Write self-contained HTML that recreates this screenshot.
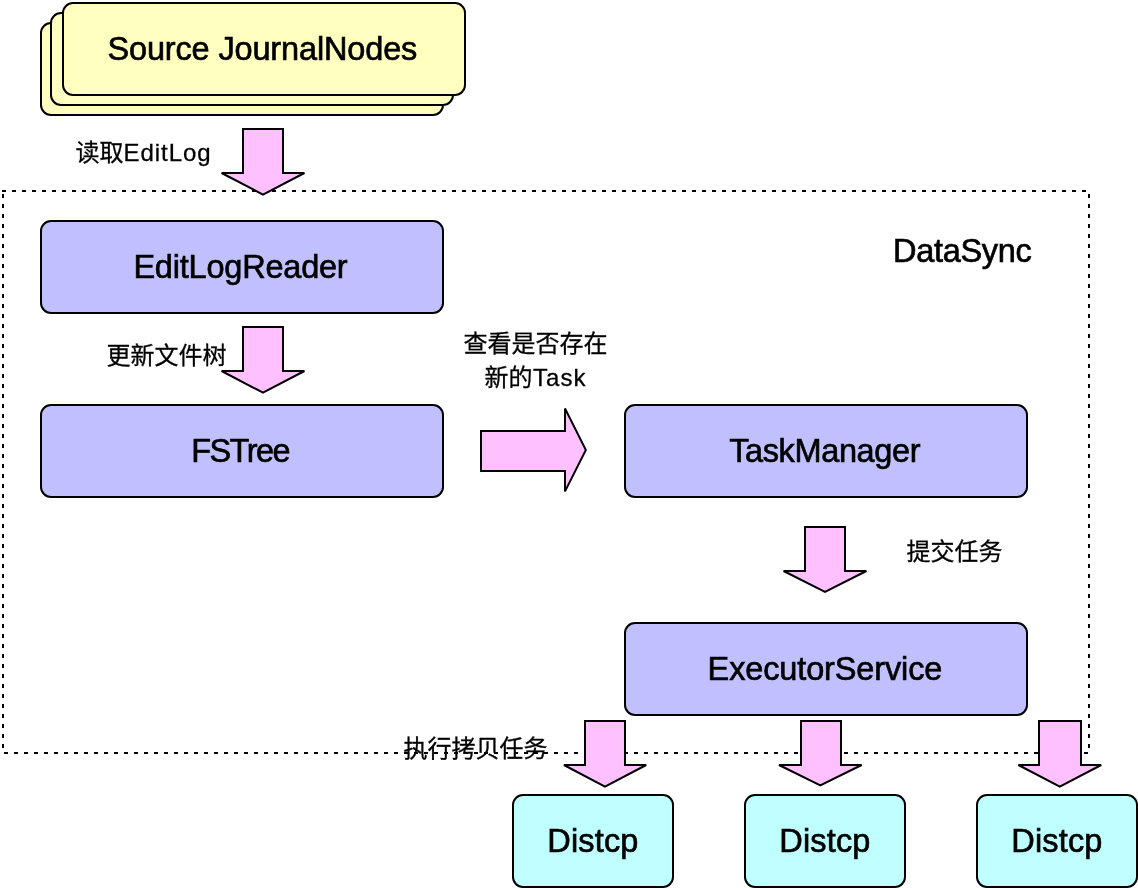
<!DOCTYPE html>
<html lang="zh-CN">
<head>
<meta charset="utf-8">
<title>DataSync</title>
<style>
html,body{margin:0;padding:0;background:#fff;}
body{width:1138px;height:888px;overflow:hidden;}
svg{display:block;}
text{font-family:"Liberation Sans","Noto Sans CJK SC",sans-serif;fill:#000;stroke:#000;}
.en,.zh{filter:grayscale(1);}
.en text{font-size:32.5px;stroke-width:0.65px;text-anchor:start;}
.zh text{font-size:24px;stroke-width:0.3px;text-anchor:middle;}
.zh text.s{text-anchor:start;}
</style>
</head>
<body>
<svg width="1138" height="888" viewBox="0 0 1138 888">
<!-- dashed DataSync boundary -->
<rect x="3" y="191" width="1086" height="562" fill="none" stroke="#000" stroke-width="2" stroke-dasharray="2 8" stroke-linecap="square"/>
<!-- Source JournalNodes (stacked) -->
<g fill="#ffffc0" stroke="#000" stroke-width="2">
<rect x="41" y="23" width="402" height="92" rx="10" ry="10"/>
<rect x="51" y="13" width="402" height="92" rx="10" ry="10"/>
<rect x="63" y="3" width="402" height="92" rx="10" ry="10"/>
</g>
<!-- component boxes -->
<g fill="#c0c0ff" stroke="#000" stroke-width="2">
<rect x="41" y="221" width="402" height="92" rx="10" ry="10"/>
<rect x="41" y="405" width="402" height="92" rx="10" ry="10"/>
<rect x="625" y="405" width="402" height="92" rx="10" ry="10"/>
<rect x="625" y="623" width="402" height="92" rx="10" ry="10"/>
</g>
<!-- Distcp boxes -->
<g fill="#c0ffff" stroke="#000" stroke-width="2">
<rect x="513" y="795" width="160" height="92" rx="10" ry="10"/>
<rect x="745" y="795" width="160" height="92" rx="10" ry="10"/>
<rect x="977" y="795" width="160" height="92" rx="10" ry="10"/>
</g>
<!-- arrows -->
<g fill="#ffc0ff" stroke="#000" stroke-width="2">
<path d="M243,129 H283 V173 H304.4 L263,194.6 L221.6,173 H243 Z"/>
<path d="M243,327 H283 V371 H304.4 L263,392.7 L221.6,371 H243 Z"/>
<path d="M481,431 H565 V408.5 L585.85,450 L565,491.4 V471 H481 Z"/>
<path d="M805,527 H845 V571 H866.4 L825,591.8 L783.6,571 H805 Z"/>
<path d="M585,721 H625 V765 H646.2 L605,786.6 L563.9,765 H585 Z"/>
<path d="M801,721 H841 V765 H861.6 L820.3,785.5 L779,765 H801 Z"/>
<path d="M1039,721 H1081 V765 H1101.2 L1059.8,786.6 L1018.4,765 H1039 Z"/>
</g>
<!-- box labels -->
<g class="en">
<text x="107.46" y="60" style="letter-spacing:-0.149px">Source JournalNodes</text>
<text x="133.38" y="278" style="letter-spacing:-0.209px">EditLogReader</text>
<text x="191.15" y="462" style="letter-spacing:-1.543px">FSTree</text>
<text x="729.13" y="462" style="letter-spacing:-0.369px">TaskManager</text>
<text x="707.61" y="680" style="letter-spacing:-0.133px">ExecutorService</text>
<text x="547.29" y="852" style="letter-spacing:0.172px">Distcp</text>
<text x="779.29" y="852" style="letter-spacing:0.172px">Distcp</text>
<text x="1011.29" y="852" style="letter-spacing:0.172px">Distcp</text>
<text x="893.01" y="262" style="letter-spacing:-0.294px">DataSync</text>
</g>
<!-- arrow labels -->
<g class="zh">
<text class="s" x="75.5" y="161">读取<tspan x="123.52" style="letter-spacing:0.945px">EditLog</tspan></text>
<text x="166.5" y="364">更新文件树</text>
<text x="535.5" y="352">查看是否存在</text>
<text class="s" x="484.5" y="386">新的<tspan x="533.00" style="letter-spacing:1.064px">Task</tspan></text>
<text x="954.5" y="560">提交任务</text>
<text x="475.5" y="757">执行拷贝任务</text>
</g>
</svg>
</body>
</html>
